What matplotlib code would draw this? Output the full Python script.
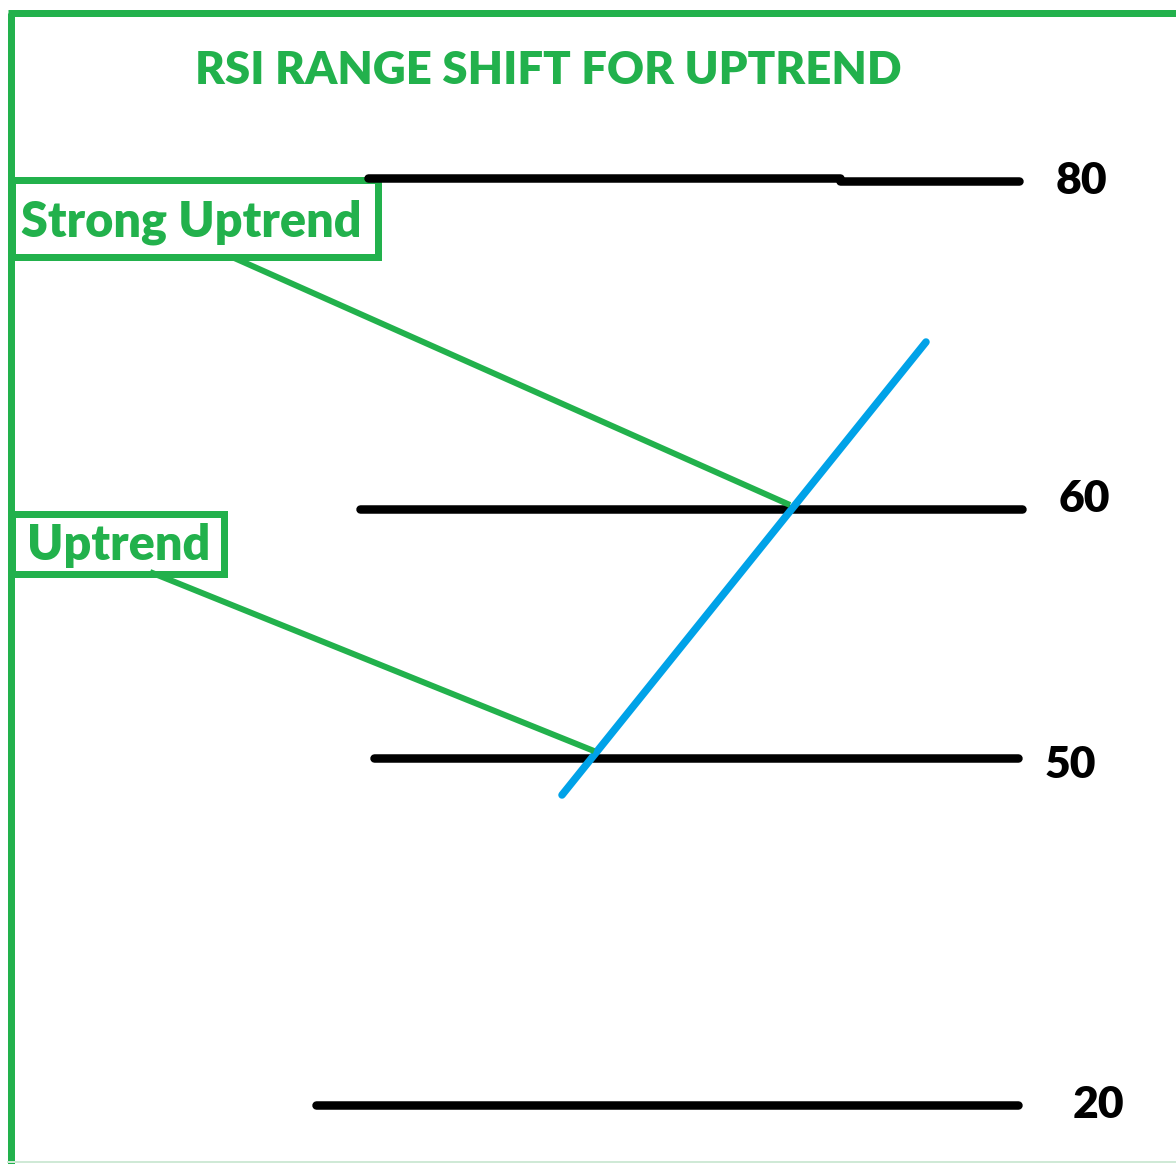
import matplotlib
matplotlib.use("Agg")
import matplotlib.pyplot as plt
from matplotlib.patches import Rectangle

W, H = 1176, 1164
GREEN = "#22B14C"
BLUE = "#00A2E8"
PX = 0.72  # points per pixel at dpi 100

# RSI levels drawn as horizontal lines (schematic, pixel positions)
levels = ["80", "60", "50", "20"]
level_y = [181, 509, 758, 1105]
level_x0 = [840, 360, 374, 316]
level_x1 = [1019, 1022, 1018, 1018]
label_x = [1081, 1084, 1070, 1098]
label_y = [181, 499, 765, 1105]
# the hand-drawn 80 line has a small step in it
step_x = [368, 840]
step_y = 178

# rising RSI path
rsi_x = [562, 926]
rsi_y = [795, 342]

# callout boxes
box_text = ["Strong Uptrend", "Uptrend"]
box_rect = [(12, 180, 366, 77), (12, 514, 212, 60)]
box_text_xy = [(191, 222), (119, 546)]
pointer_from = [(232, 257), (150, 572)]
pointer_to = [(790, 505), (594, 751)]

fig = plt.figure(figsize=(W / 100, H / 100), dpi=100)
ax = fig.add_axes([0, 0, 1, 1])
ax.set_xlim(0, W)
ax.set_ylim(H, 0)
ax.axis("off")

# outer frame
ax.plot([11, 11], [H, 13], color=GREEN, lw=7 * PX, solid_capstyle="butt")
ax.plot([8, W], [13, 13], color=GREEN, lw=7 * PX, solid_capstyle="butt")
ax.plot([8, W], [H - 2, H - 2], color="#cfe9d6", lw=2 * PX)

ax.text(548, 70, "RSI RANGE SHIFT FOR UPTREND", color=GREEN, fontsize=32.8,
        fontweight="heavy", family="Lato", ha="center", va="center")

ax.plot(step_x, [step_y, step_y], color="black", lw=8.5 * PX, solid_capstyle="round")
for lab, y, x0, x1, lx, ly in zip(levels, level_y, level_x0, level_x1, label_x, label_y):
    ax.plot([x0, x1], [y, y], color="black", lw=8.5 * PX, solid_capstyle="round")
    ax.text(lx, ly, lab, color="black", fontsize=32, fontweight="heavy",
            family="Lato", ha="center", va="center")

ax.plot(rsi_x, rsi_y, color=BLUE, lw=7.5 * PX, solid_capstyle="round")

for txt, (x, y, w, h), (tx, ty), p0, p1 in zip(box_text, box_rect, box_text_xy,
                                               pointer_from, pointer_to):
    ax.add_patch(Rectangle((x, y), w, h, fill=False, edgecolor=GREEN, lw=7 * PX))
    ax.text(tx, ty, txt, color=GREEN, fontsize=35, fontweight="heavy",
            family="Lato", ha="center", va="center")
    ax.plot([p0[0], p1[0]], [p0[1], p1[1]], color=GREEN, lw=6 * PX,
            solid_capstyle="butt")

fig.savefig("out.png", dpi=100)
